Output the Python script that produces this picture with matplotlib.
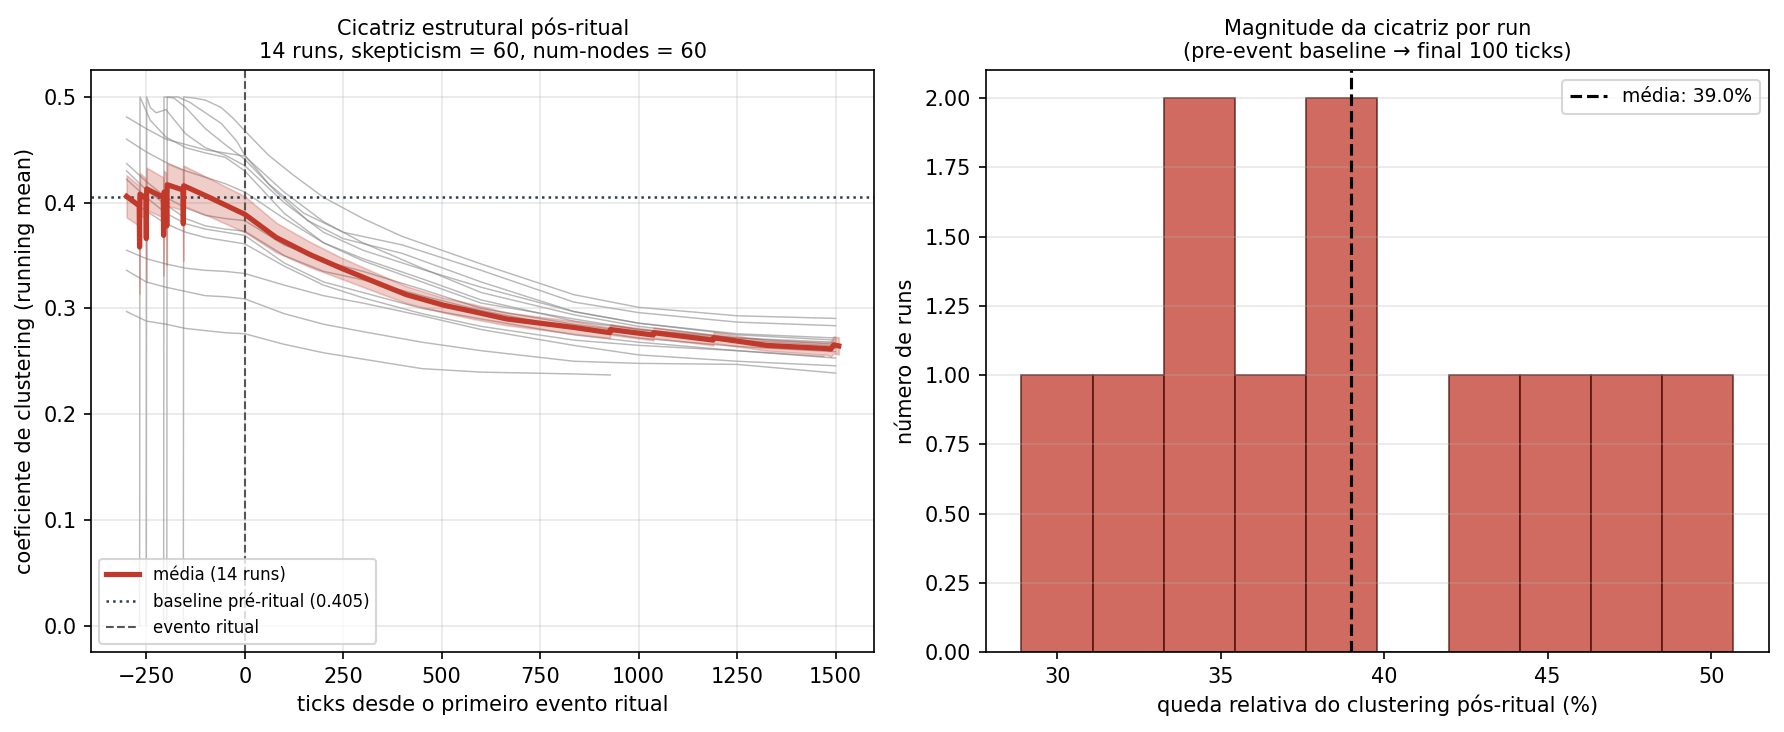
import matplotlib

matplotlib.use("Agg")
import matplotlib.pyplot as plt

RED = "#c0392b"

# ---- per-run running-mean clustering ----
# runs that start at tick -300
early_x = [-300, -250, -200, -150, -100, -50, 0, 100, 200, 300, 450, 600, 835, 1000, 1250, 1500]
run_e1 = [0.481, 0.470, 0.460, 0.455, 0.450, 0.447, 0.444, 0.410, 0.382, 0.362, 0.338, 0.315, 0.294, 0.283, 0.272, 0.266]
run_e2 = [0.460, 0.448, 0.438, 0.430, 0.424, 0.418, 0.410, 0.385, 0.362, 0.345, 0.325, 0.305, 0.290, 0.280, 0.270, 0.2645]
run_e3 = [0.437, 0.420, 0.405, 0.395, 0.388, 0.385, 0.383, 0.360, 0.345, 0.335, 0.318, 0.300, 0.285, 0.277, 0.268, 0.262]
run_e4 = [0.430, 0.412, 0.398, 0.385, 0.378, 0.375, 0.373, 0.350, 0.335, 0.327, 0.312, 0.298, 0.281, 0.272, 0.264, 0.259]
run_e5 = [0.422, 0.405, 0.390, 0.380, 0.375, 0.372, 0.369, 0.343, 0.325, 0.315, 0.300, 0.290, 0.275, 0.268, 0.260, 0.253]
run_s = [0.355, 0.347, 0.342, 0.338, 0.336, 0.335, 0.333, 0.322, 0.312, 0.305, 0.293, 0.280, 0.265, 0.256, 0.250, 0.2457]
run_q = [0.336, 0.325, 0.320, 0.316, 0.312, 0.311, 0.309, 0.295, 0.285, 0.278, 0.268, 0.260, 0.250, 0.248, 0.247, 0.2388]

run_e6_x = [-300, -250, -200, -150, -100, -50, 0, 100, 200, 300, 450, 600, 835, 1000, 1250, 1470]
run_e6 = [0.405, 0.392, 0.380, 0.372, 0.367, 0.364, 0.361, 0.340, 0.322, 0.310, 0.295, 0.283, 0.270, 0.265, 0.260, 0.2545]
run_p_x = [-300, -250, -200, -150, -100, -50, 0, 100, 200, 300, 450, 600, 835, 928]
run_p = [0.297, 0.288, 0.285, 0.281, 0.279, 0.277, 0.276, 0.266, 0.258, 0.252, 0.243, 0.2397, 0.238, 0.237]

# runs that start later (first value 0, then jump to 0.5)
run_l1_x = [-267, -266, -240, -200, -150, -100, -50, 0, 100, 200, 300, 450, 600, 835, 1000, 1250, 1500]
run_l1 = [0.0, 0.5, 0.478, 0.462, 0.452, 0.447, 0.443, 0.430, 0.390, 0.362, 0.347, 0.328, 0.308, 0.288, 0.280, 0.272, 0.268]
run_l2_x = [-250, -249, -240, -225, -200, -150, -100, -50, 0, 100, 200, 300, 450, 600, 835, 1000, 1250, 1500]
run_l2 = [0.0, 0.5, 0.490, 0.485, 0.488, 0.465, 0.452, 0.445, 0.435, 0.400, 0.372, 0.355, 0.337, 0.320, 0.297, 0.286, 0.275, 0.270]
run_l3_x = [-206, -205, -180, -150, -100, -50, 0, 80, 160, 250, 400, 600, 835, 1000, 1250, 1500]
run_l3 = [0.0, 0.5, 0.499, 0.490, 0.470, 0.455, 0.441, 0.410, 0.383, 0.366, 0.352, 0.325, 0.297, 0.286, 0.276, 0.272]
run_l4_x = [-198, -197, -170, -140, -100, -60, -20, 0, 60, 150, 250, 400, 600, 835, 1000, 1250, 1500]
run_l4 = [0.0, 0.5, 0.500, 0.495, 0.485, 0.475, 0.458, 0.445, 0.418, 0.390, 0.372, 0.360, 0.336, 0.306, 0.296, 0.287, 0.2836]
run_l5_x = [-156, -155, -130, -100, -60, -30, 0, 60, 120, 200, 300, 400, 600, 835, 1000, 1250, 1500]
run_l5 = [0.0, 0.5, 0.499, 0.497, 0.490, 0.480, 0.468, 0.445, 0.427, 0.405, 0.385, 0.368, 0.342, 0.313, 0.301, 0.293, 0.2905]

# mean across runs and its band half-width
mean_x = [-300, -268, -267, -266, -251, -250, -249, -207, -206, -205, -199, -198, -197,
          -157, -156, -155, -90, 0, 80, 165, 245, 330, 410, 505, 580, 665, 750, 835,
          927, 928, 1037, 1038, 1189, 1190, 1325, 1478, 1488, 1495, 1508]
mean_y = [0.406, 0.397, 0.358, 0.408, 0.404, 0.366, 0.413, 0.405, 0.369, 0.410, 0.408, 0.378, 0.417,
          0.412, 0.380, 0.416, 0.405, 0.389, 0.367, 0.351, 0.338, 0.325, 0.313, 0.303, 0.297, 0.290, 0.286, 0.282,
          0.277, 0.280, 0.2748, 0.277, 0.270, 0.2723, 0.265, 0.262, 0.2615, 0.2655, 0.2645]
mean_hw = [0.020, 0.019, 0.044, 0.020, 0.019, 0.041, 0.020, 0.019, 0.038, 0.020, 0.020, 0.037, 0.020,
           0.019, 0.035, 0.019, 0.018, 0.017, 0.014, 0.012, 0.010, 0.009, 0.008, 0.007, 0.007, 0.006, 0.006, 0.006,
           0.005, 0.005, 0.005, 0.005, 0.005, 0.005, 0.005, 0.006, 0.007, 0.008, 0.008]
baseline = 0.405

# histogram of relative drop (%)
bin_edges = [28.90, 31.08, 33.26, 35.43, 37.61, 39.79, 41.97, 44.15, 46.32, 48.50, 50.68]
bin_counts = [1, 1, 2, 1, 2, 0, 1, 1, 1, 1]
drop_mean = 39.0


def main():
    fig, (ax_l, ax_r) = plt.subplots(1, 2, figsize=(1784 / 150, 732 / 150), dpi=150)

    runs = [(early_x, run_e1), (early_x, run_e2), (early_x, run_e3), (early_x, run_e4),
            (early_x, run_e5), (run_e6_x, run_e6), (early_x, run_s), (early_x, run_q),
            (run_p_x, run_p), (run_l1_x, run_l1), (run_l2_x, run_l2), (run_l3_x, run_l3),
            (run_l4_x, run_l4), (run_l5_x, run_l5)]
    for xs, ys in runs:
        ax_l.plot(xs, ys, color="gray", alpha=0.55, lw=0.7, zorder=1)

    lo = [m - h for m, h in zip(mean_y, mean_hw)]
    hi = [m + h for m, h in zip(mean_y, mean_hw)]
    ax_l.fill_between(mean_x, lo, hi, color=RED, alpha=0.25, lw=0.8, zorder=2)
    ax_l.plot(mean_x, mean_y, color=RED, lw=2.5, zorder=3, label="média (14 runs)")
    ax_l.axhline(baseline, color="#2c3e50", ls=":", lw=1.2,
                 label=f"baseline pré-ritual ({baseline:.3f})")
    ax_l.axvline(0, color="#555555", ls="--", lw=1, label="evento ritual")

    ax_l.set_xlabel("ticks desde o primeiro evento ritual")
    ax_l.set_ylabel("coeficiente de clustering (running mean)")
    ax_l.set_title("Cicatriz estrutural pós-ritual\n14 runs, skepticism = 60, num-nodes = 60",
                   fontsize=10)
    ax_l.grid(True, alpha=0.3)
    ax_l.legend(loc="lower left", fontsize=8)

    ax_r.hist(bin_edges[:-1], bins=bin_edges, weights=bin_counts,
              color=RED, alpha=0.75, edgecolor="#4a0d08", lw=0.8)
    ax_r.axvline(drop_mean, color="black", ls="--", lw=1.5, label=f"média: {drop_mean:.1f}%")
    ax_r.set_xlabel("queda relativa do clustering pós-ritual (%)")
    ax_r.set_ylabel("número de runs")
    ax_r.set_title("Magnitude da cicatriz por run\n(pre-event baseline → final 100 ticks)",
                   fontsize=10)
    ax_r.grid(True, axis="y", alpha=0.3)
    ax_r.legend(loc="upper right", fontsize=9)

    fig.subplots_adjust(left=0.051, right=0.9916, bottom=0.1093, top=0.9037, wspace=0.142)
    fig.savefig("out.png", dpi=150)


if __name__ == "__main__":
    main()
